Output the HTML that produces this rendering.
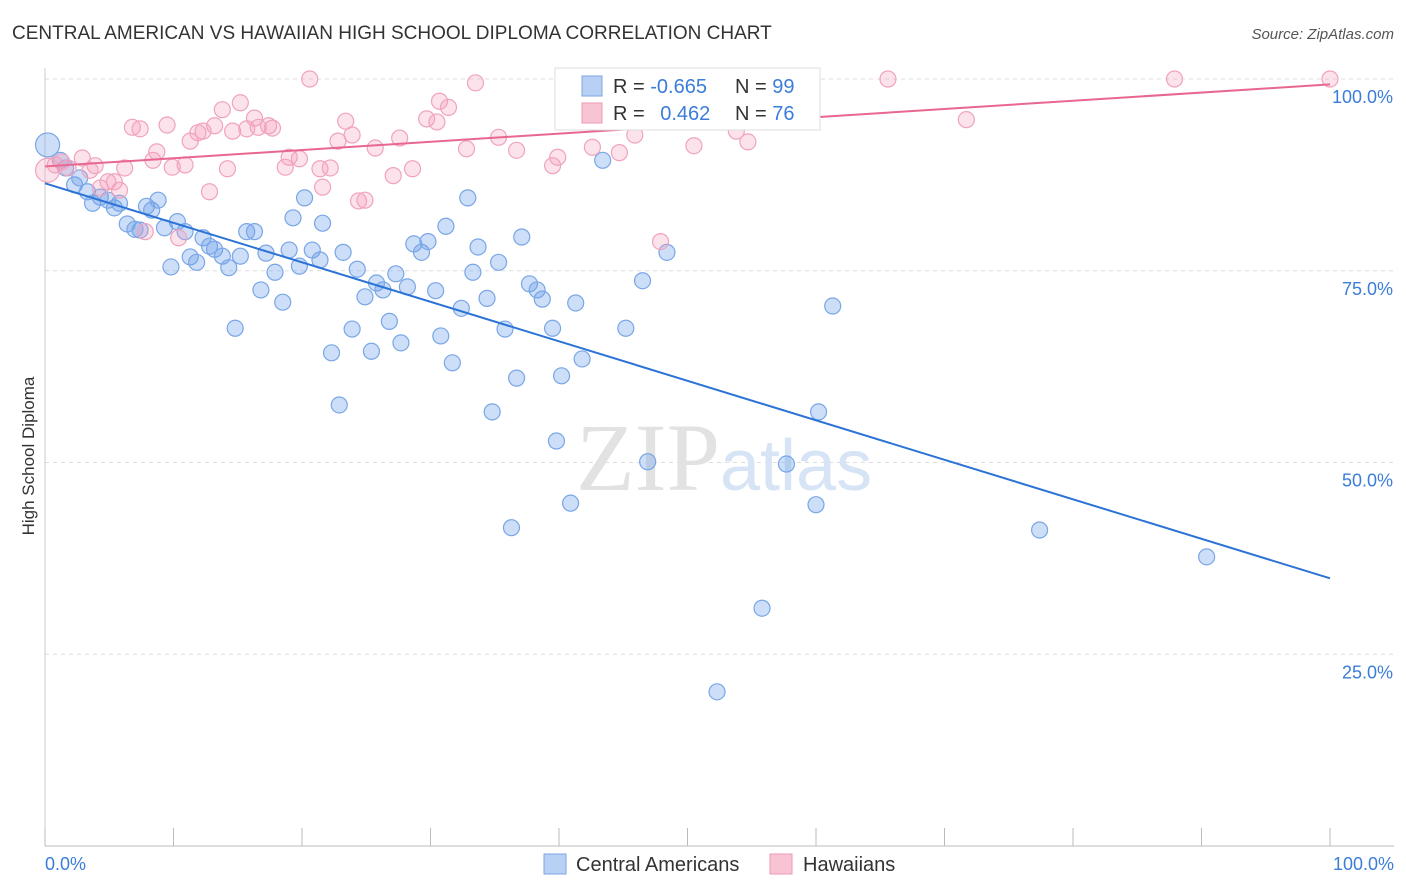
<!DOCTYPE html>
<html><head><meta charset="utf-8">
<style>
body{margin:0;background:#fff;font-family:"Liberation Sans",sans-serif;}
svg{display:block}
</style></head>
<body>
<svg id="chart" width="1406" height="892">
<text x="12" y="39" font-size="19" fill="#333">CENTRAL AMERICAN VS HAWAIIAN HIGH SCHOOL DIPLOMA CORRELATION CHART</text>
<text x="1394" y="39" font-size="15" fill="#555" text-anchor="end" font-style="italic">Source: ZipAtlas.com</text>
<text x="0" y="0" transform="translate(34,456) rotate(-90)" font-size="17" fill="#333" text-anchor="middle">High School Diploma</text>
<g id="grid"></g>
<text x="720" y="490" font-size="96" fill="#e2e2e2" text-anchor="end" font-family="Liberation Serif">ZIP</text>
<text x="720" y="490" font-size="72" fill="#d6e4f5">atlas</text>
<g id="pts"></g>
<g id="lines"></g>
<g>
<rect x="555" y="68" width="265" height="62" fill="#fff" stroke="#ddd"/>
<rect x="582" y="76" width="20" height="20" fill="#b8d0f4" stroke="#7aa6e6"/>
<text x="613" y="93" font-size="20" fill="#333">R = <tspan fill="#3b7dd8">-0.665</tspan></text>
<text x="735" y="93" font-size="20" fill="#333">N = <tspan fill="#3b7dd8">99</tspan></text>
<rect x="582" y="103" width="20" height="20" fill="#f8c4d4" stroke="#ee9ab4"/>
<text x="613" y="120" font-size="20" fill="#333">R = <tspan fill="#3b7dd8" dx="10">0.462</tspan></text>
<text x="735" y="120" font-size="20" fill="#333">N = <tspan fill="#3b7dd8">76</tspan></text>
</g>
<g>
<rect x="544" y="854" width="22" height="20" fill="#b8d0f4" stroke="#7aa6e6"/>
<text x="576" y="871" font-size="20" fill="#333">Central Americans</text>
<rect x="770" y="854" width="22" height="20" fill="#f8c4d4" stroke="#ee9ab4"/>
<text x="803" y="871" font-size="20" fill="#333">Hawaiians</text>
</g>
<text x="45" y="870" font-size="18" fill="#3b7dd8">0.0%</text>
<text x="1394" y="870" font-size="18" fill="#3b7dd8" text-anchor="end">100.0%</text>
</svg>
<script>
const yTicks=[100,75,50,25];
const yTickLabels=["100.0%","75.0%","50.0%","25.0%"];
const xTicks=[0,10,20,30,40,50,60,70,80,90,100];
const blueX=[0.2,1.2,1.6,2.3,2.7,3.3,3.7,4.3,4.9,5.4,5.8,6.4,7.0,7.4,7.9,8.3,8.8,9.3,9.8,10.3,10.9,11.3,11.8,12.3,12.8,13.2,13.8,14.3,14.8,15.2,15.7,16.3,16.8,17.2,17.9,18.5,19.0,19.3,19.8,20.2,20.8,21.4,21.6,22.3,22.9,23.2,23.9,24.3,24.9,25.4,25.8,26.3,26.8,27.3,27.7,28.2,28.7,29.3,29.8,30.4,30.8,31.2,31.7,32.4,32.9,33.3,33.7,34.4,34.8,35.3,35.8,36.3,36.7,37.1,37.7,38.3,38.7,39.5,39.8,40.2,40.9,41.3,41.8,43.4,45.2,46.5,46.9,48.4,52.3,55.8,57.7,60.0,60.2,61.3,77.4,90.4];
const blueY=[91.4,89.4,88.4,86.2,87.1,85.3,83.8,84.6,84.2,83.2,83.8,81.1,80.4,80.3,83.4,82.9,84.2,80.6,75.5,81.4,80.1,76.8,76.1,79.3,78.2,77.8,76.9,75.4,67.5,76.9,80.1,80.1,72.5,77.3,74.8,70.9,77.7,81.9,75.6,84.5,77.7,76.4,81.2,64.3,57.5,77.4,67.4,75.2,71.6,64.5,73.4,72.5,68.4,74.6,65.6,72.9,78.5,77.4,78.8,72.4,66.5,80.8,63.0,70.1,84.5,74.8,78.1,71.4,56.6,76.1,67.4,41.5,61.0,79.4,73.3,72.5,71.3,67.5,52.8,61.3,44.7,70.8,63.5,89.4,67.5,73.7,50.1,77.4,20.1,31.0,49.8,44.5,56.6,70.4,41.2,37.7];
const pinkX=[0.2,0.8,1.3,1.8,2.9,3.5,3.9,4.3,4.9,5.4,5.8,6.2,6.8,7.4,7.8,8.4,8.7,9.5,9.9,10.4,10.9,11.3,11.9,12.3,12.8,13.2,13.8,14.2,14.6,15.2,15.7,16.3,16.6,17.4,17.7,18.7,19.0,19.8,20.6,21.4,21.6,22.2,22.8,23.4,23.9,24.4,24.9,25.7,27.1,27.6,28.6,29.7,30.5,30.7,31.4,32.8,33.5,35.3,36.7,39.5,39.9,42.6,44.7,45.9,47.9,49.0,50.5,53.8,54.7,65.6,71.7,87.9,100];
const pinkY=[88.1,88.8,89.2,88.4,89.7,88.1,88.7,85.8,86.6,86.6,85.5,88.4,93.7,93.5,80.1,89.4,90.5,94.0,88.5,79.3,88.8,91.9,93.0,93.2,85.3,93.9,96.0,88.3,93.2,96.9,93.5,94.9,93.7,93.9,93.6,88.5,89.8,89.6,100,88.3,85.9,88.4,91.9,94.5,92.7,84.1,84.2,91.0,87.4,92.3,88.3,94.8,94.4,97.1,96.3,90.9,99.5,92.4,90.7,88.7,89.8,91.1,90.4,92.7,78.8,99.9,91.3,93.2,91.8,100,94.7,100,100];
const blueTrend=[86.4,34.9];
const pinkTrend=[88.6,99.3];
const NS="http://www.w3.org/2000/svg";
const X=v=>45+v*12.85, Y=v=>846-v*7.67;
function mk(tag,attrs,parent){const e=document.createElementNS(NS,tag);for(const k in attrs)e.setAttribute(k,attrs[k]);parent.appendChild(e);return e;}
const grid=document.getElementById('grid');
yTicks.forEach((t,i)=>{
 const l=mk('line',{x1:45,x2:1394,y1:Y(t),y2:Y(t),stroke:'#ddd','stroke-dasharray':'4,4'},grid);
 
 
 const tx=mk('text',{x:1393,y:Y(t)+24,'font-size':18,fill:'#3b7dd8','text-anchor':'end'},grid);
 tx.textContent=yTickLabels[i];
 
 
});
const ax=mk('line',{x1:45,x2:1394,y1:846,y2:846,stroke:'#bbb'},grid);


const ay=mk('line',{x1:45,x2:45,y1:68,y2:846,stroke:'#ccc'},grid);


xTicks.forEach(t=>{
 const l=mk('line',{x1:X(t),x2:X(t),y1:828,y2:846,stroke:'#bbb'},grid);
 
 
});
const pts=document.getElementById('pts');
blueX.forEach((x,i)=>{
 const c=mk('circle',{cx:X(x),cy:Y(blueY[i]),r:i==0?12:8,fill:'rgba(110,160,235,0.35)',stroke:'#79a6e6','stroke-width':1.2},pts);
 
 
});
pinkX.forEach((x,i)=>{
 const c=mk('circle',{cx:X(x),cy:Y(pinkY[i]),r:i==0?12:8,fill:'rgba(245,160,190,0.3)',stroke:'#f0a3bc','stroke-width':1.2},pts);
 
 
});
const lines=document.getElementById('lines');
const bl=mk('line',{x1:X(0),y1:Y(blueTrend[0]),x2:X(100),y2:Y(blueTrend[1]),stroke:'#2b73d6','stroke-width':2},lines);


const pl=mk('line',{x1:X(0),y1:Y(pinkTrend[0]),x2:X(100),y2:Y(pinkTrend[1]),stroke:'#e8678f','stroke-width':2},lines);


</script>
</body></html>
